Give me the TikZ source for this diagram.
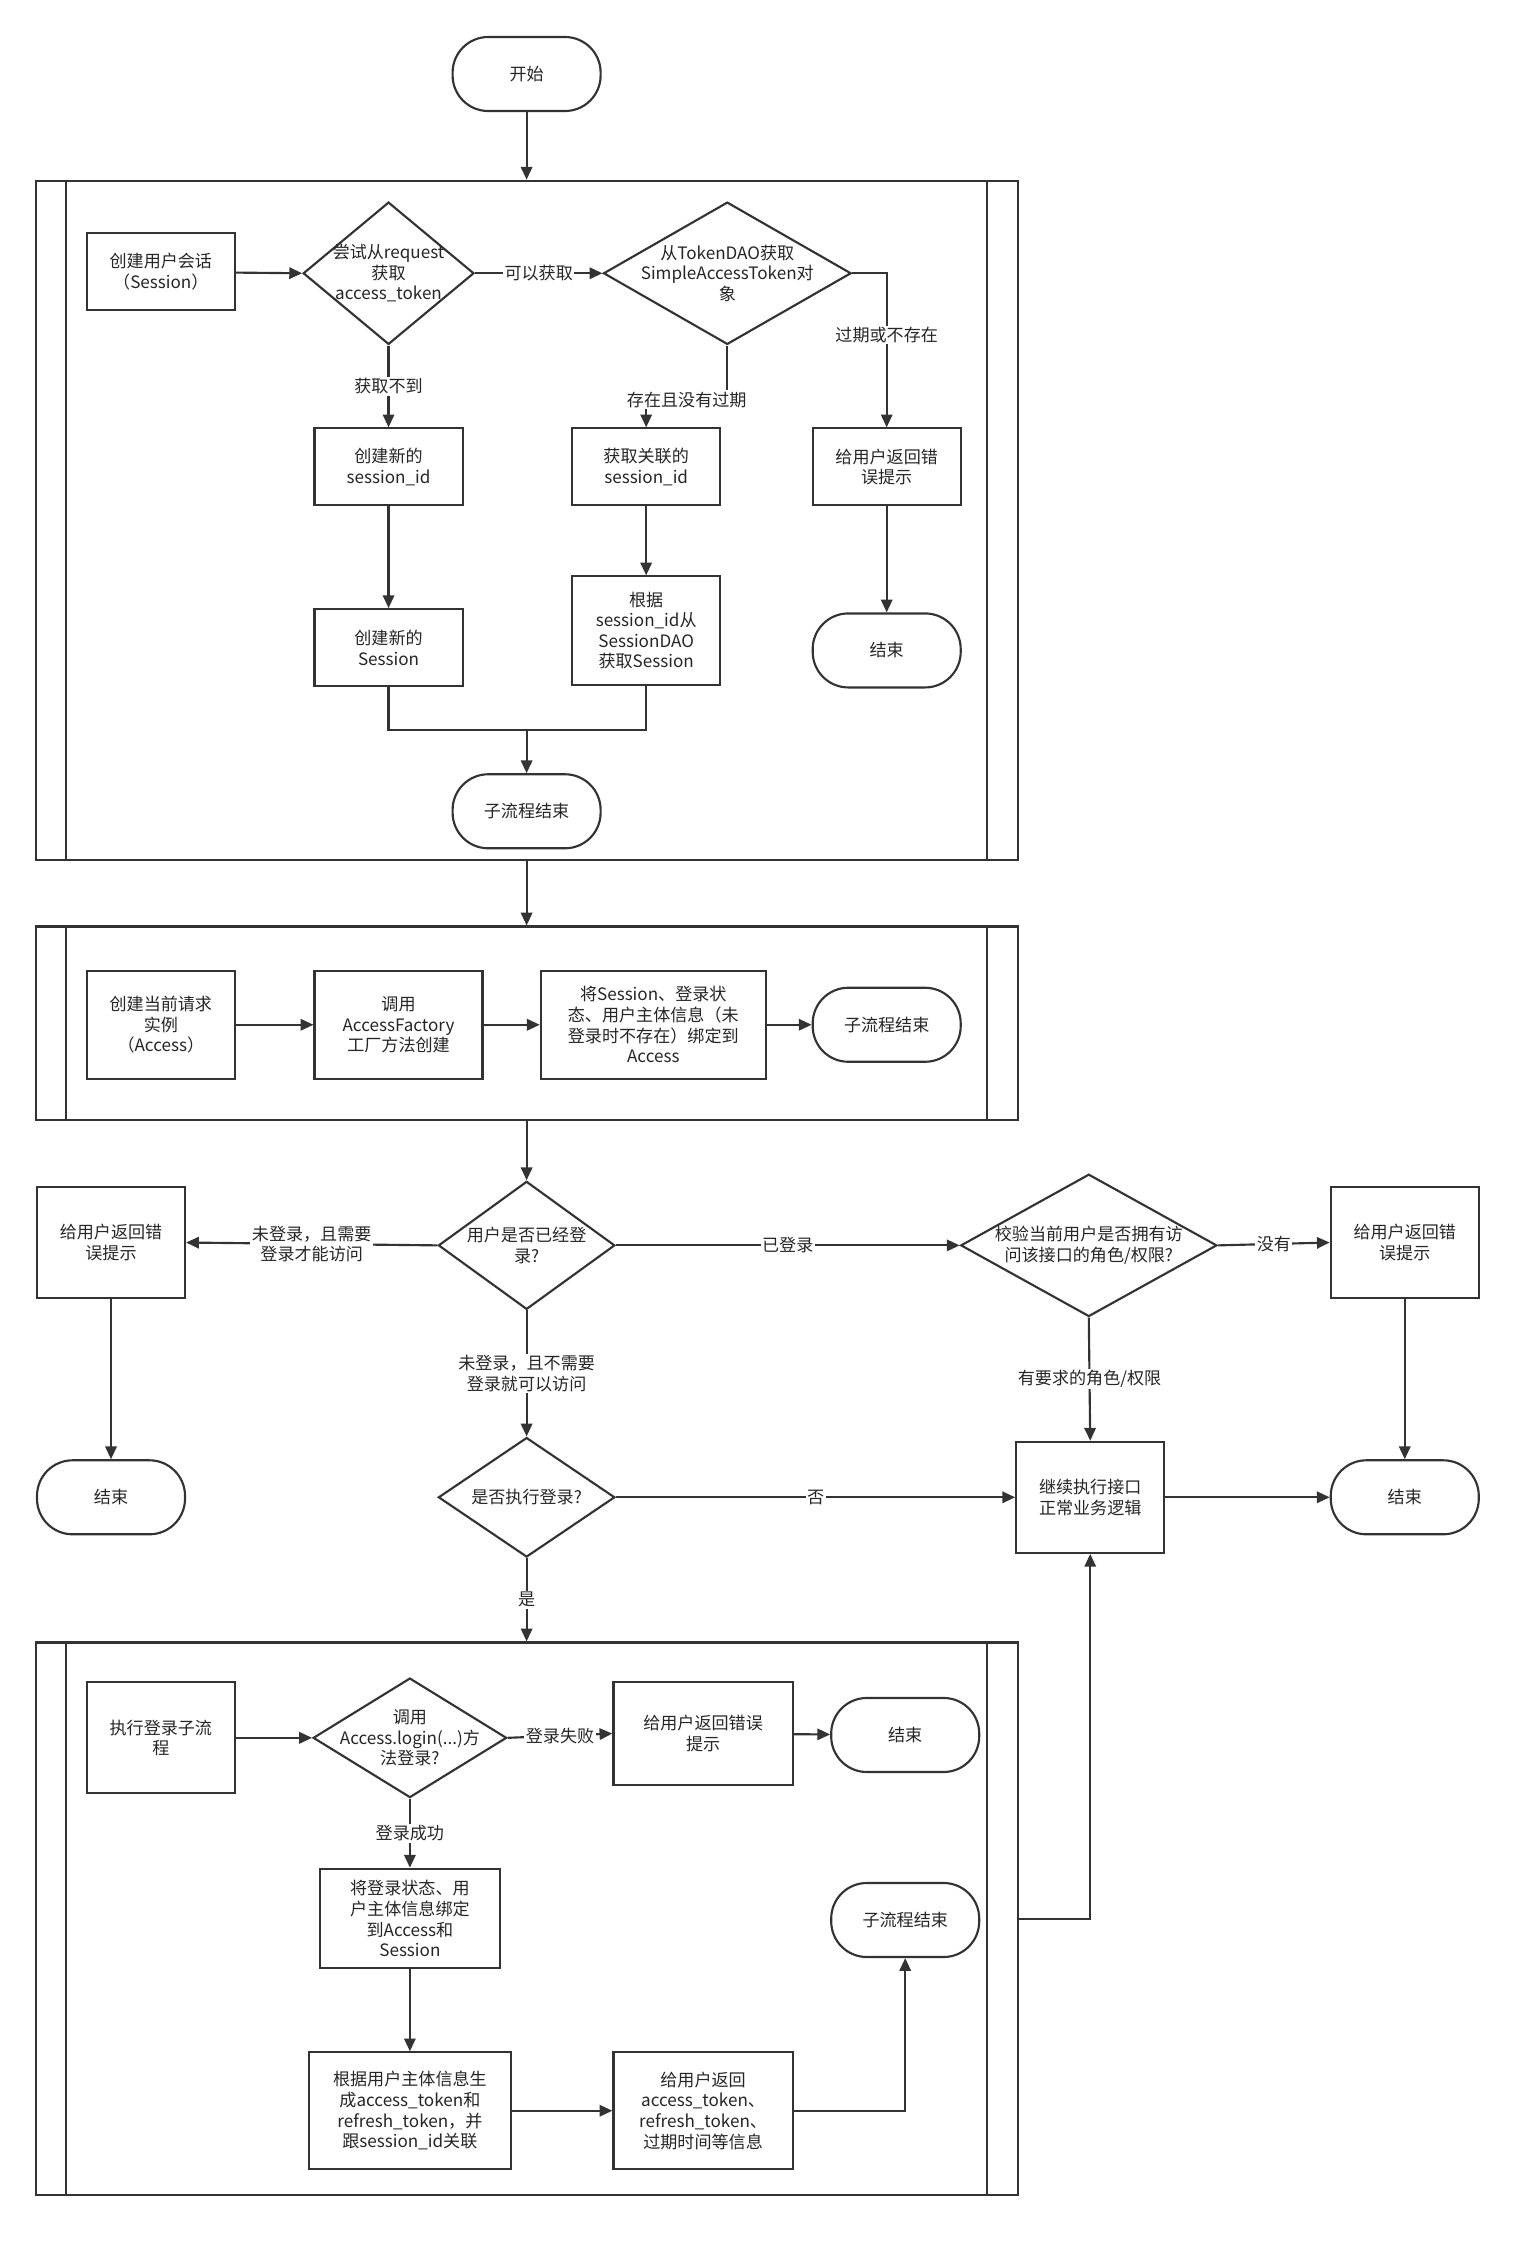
\documentclass[tikz,border=0pt]{standalone}
\usepackage{fontspec}
\setmainfont{Noto Sans CJK SC}
\usetikzlibrary{shapes.geometric,calc,arrows.meta}
\begin{document}
\begin{tikzpicture}[x=1pt,y=-1pt,
  every node/.style={font=\fontsize{12}{14.5}\selectfont, text=black!85},
  base/.style={draw=black!80, line width=1.5pt, fill=white, align=center, inner sep=1pt},
  box/.style={base, rectangle, minimum width=#1, minimum height=54},
  box/.default=104,
  term/.style={base, rectangle, rounded corners=25pt, minimum width=104, minimum height=52},
  dia/.style={base, diamond, minimum width=#1, inner sep=0pt},
  dl/.style={label={[align=center, font=\fontsize{12}{14.5}\selectfont, text=black!85]center:#1}},
  frame/.style={draw=black!80, line width=1.5pt, rectangle, minimum width=690},
  arr/.style={draw=black!80, line width=1.5pt, -{Triangle[length=9pt,width=8pt]}},
  ln/.style={draw=black!80, line width=1.5pt},
  lbl/.style={fill=white, inner sep=1pt, align=center}]
\useasboundingbox[fill=white] (0,0) rectangle (1080,1590);

% frames
\node[frame, minimum height=477] (f1) at (370,365.5) {};
\node[frame, minimum height=136] (f2) at (370,719) {};
\node[frame, minimum height=388] (f3) at (370,1348) {};
\foreach \f in {f1,f2,f3}{
  \draw[ln] ($(\f.north west)+(22,0)$) -- ($(\f.south west)+(22,0)$);
  \draw[ln] ($(\f.north east)+(-22,0)$) -- ($(\f.south east)+(-22,0)$);
}

\node[term] (start) at (370,52) {开始};
% frame 1
\node[box] (s1) at (113,191) {创建用户会话\\（Session）};
\node[dia=120, minimum height=100, dl={尝试从request\\获取\\access\_token}] (d1) at (273,192) {};
\node[dia=174, minimum height=100, dl={从TokenDAO获取\\SimpleAccessToken对\\象}] (d2) at (511,192) {};
\node[box] (e1) at (623,328) {给用户返回错\\误提示};
\node[term] (end1) at (623,457) {结束};
\node[box] (n1) at (273,328) {创建新的\\session\_id};
\node[box] (n2) at (273,455) {创建新的\\Session};
\node[box] (g1) at (454,328) {获取关联的\\session\_id};
\node[box, minimum height=76] (g2) at (454,443) {根据\\session\_id从\\SessionDAO\\获取Session};
\node[term] (sub1) at (370,570) {子流程结束};
\draw[arr] (start) -- (f1.north);
\draw[arr] (s1) -- (d1.west);
\draw[arr] (d1.east) -- node[lbl] {可以获取} (d2.west);
\draw[arr] (d2.east) -| node[lbl, pos=0.7] {过期或不存在} (e1.north);
\draw[arr] (e1) -- (end1);
\draw[arr] (d1.south) -- node[lbl, pos=0.5] {获取不到} (n1.north);
\draw[arr] (n1) -- (n2);
\draw[arr] (d2.south) -- ++(0,38) -| node[lbl, pos=0.25] {存在且没有过期} (g1.north);
\draw[arr] (g1) -- (g2);
\draw[ln] (n2.south) |- (370,513);
\draw[ln] (g2.south) |- (370,513);
\draw[arr] (370,513) -- (sub1.north);
\draw[arr] (f1.south) -- (f2.north);
% frame 2
\node[box, minimum height=76] (a1) at (113,720) {创建当前请求\\实例\\（Access）};
\node[box=118, minimum height=76] (a2) at (280,720) {调用\\AccessFactory\\工厂方法创建};
\node[box=158, minimum height=76] (a3) at (459,720) {将Session、登录状\\态、用户主体信息（未\\登录时不存在）绑定到\\Access};
\node[term] (sub2) at (623,720) {子流程结束};
\draw[arr] (a1) -- (a2);
\draw[arr] (a2) -- (a3);
\draw[arr] (a3) -- (sub2);
% middle
\node[dia=124, minimum height=90, dl={用户是否已经登\\录?}] (q1) at (370,875) {};
\node[box, minimum height=78] (e2) at (78,873) {给用户返回错\\误提示};
\node[term] (end2) at (78,1052) {结束};
\node[dia=180, minimum height=100, dl={校验当前用户是否拥有访\\问该接口的角色/权限?}] (q2) at (765,875) {};
\node[box, minimum height=78] (e3) at (987,873) {给用户返回错\\误提示};
\node[term] (end3) at (987,1052) {结束};
\node[box, minimum height=78] (biz) at (766,1052) {继续执行接口\\正常业务逻辑};
\node[dia=124, minimum height=84, dl={是否执行登录?}] (q3) at (370,1052) {};
\draw[arr] (f2.south) -- (q1.north);
\draw[arr] (q1.west) -- node[lbl] {未登录，且需要\\登录才能访问} (e2.east);
\draw[arr] (e2) -- (end2);
\draw[arr] (q1.east) -- node[lbl] {已登录} (q2.west);
\draw[arr] (q2.east) -- node[lbl] {没有} (e3.west);
\draw[arr] (e3) -- (end3);
\draw[arr] (q2.south) -- node[lbl] {有要求的角色/权限} (biz.north);
\draw[arr] (biz) -- (end3);
\draw[arr] (q1.south) -- node[lbl] {未登录，且不需要\\登录就可以访问} (q3.north);
\draw[arr] (q3.east) -- node[lbl] {否} (biz.west);
\draw[arr] (q3.south) -- node[lbl] {是} (f3.north);
% frame 3
\node[box, minimum height=78] (l1) at (113,1221) {执行登录子流\\程};
\node[dia=136, minimum height=84, dl={调用\\Access.login(...)方\\法登录?}] (q4) at (288,1221) {};
\node[box=126, minimum height=72] (e4) at (494,1218) {给用户返回错误\\提示};
\node[term] (end4) at (636,1219) {结束};
\node[box=126, minimum height=70] (l2) at (288,1348) {将登录状态、用\\户主体信息绑定\\到Access和\\Session};
\node[box=142, minimum height=82] (l3) at (288,1483) {根据用户主体信息生\\成access\_token和\\refresh\_token，并\\跟session\_id关联};
\node[box=126, minimum height=82] (l4) at (494,1483) {给用户返回\\access\_token、\\refresh\_token、\\过期时间等信息};
\node[term] (sub3) at (636,1349) {子流程结束};
\draw[arr] (l1) -- (q4.west);
\draw[arr] (q4.east) -- node[lbl] {登录失败} (e4.west);
\draw[arr] (e4) -- (end4);
\draw[arr] (q4.south) -- node[lbl] {登录成功} (l2.north);
\draw[arr] (l2) -- (l3);
\draw[arr] (l3) -- (l4);
\draw[arr] (l4.east) -| (sub3.south);
\draw[arr] (f3.east) -| (biz.south);
\end{tikzpicture}
\end{document}
